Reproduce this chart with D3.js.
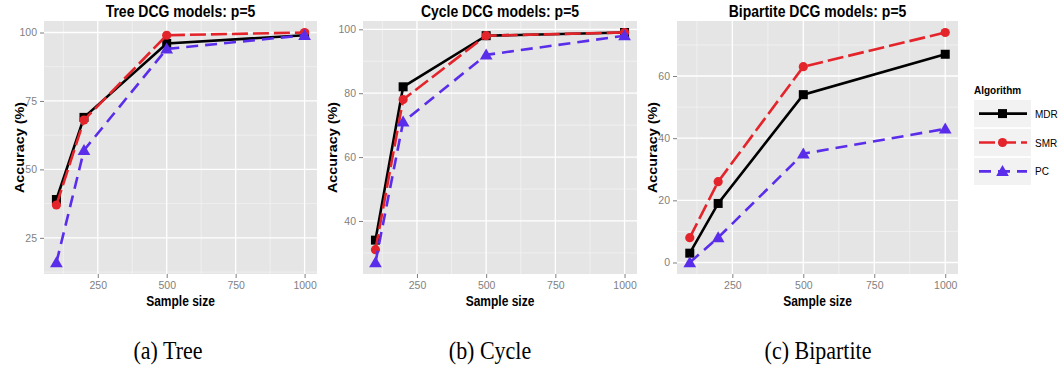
<!DOCTYPE html>
<html>
<head>
<meta charset="utf-8">
<script src="https://cdn.jsdelivr.net/npm/d3@7"></script>
<style>
    html, body { margin: 0; padding: 0; background: #fff; }
    svg { display: block; font-family: 'Liberation Sans', Arial, sans-serif; }
</style>
</head>
<body>
<div id="chart"></div>
<script>
// Data
const sampleSizes = [100, 200, 500, 1000];
const algorithms = ['MDR', 'SMR', 'PC'];

const treeMDR = [39, 69, 96, 99];
const treeSMR = [37, 68, 99, 100];
const treePC = [16, 57, 94, 99];

const cycleMDR = [34, 82, 98, 99];
const cycleSMR = [31, 78, 98, 99];
const cyclePC = [27, 71, 92, 98];

const bipartiteMDR = [3, 19, 54, 67];
const bipartiteSMR = [8, 26, 63, 74];
const bipartitePC = [0, 8, 35, 43];

const xTicks = [250, 500, 750, 1000];
const xMinorTicks = [125, 375, 625, 875];
const treeYTicks = [25, 50, 75, 100];
const cycleYTicks = [40, 60, 80, 100];
const bipartiteYTicks = [0, 20, 40, 60];

const titles = ['Tree DCG models: p=5', 'Cycle DCG models: p=5', 'Bipartite DCG models: p=5'];
const captions = ['(a) Tree', '(b) Cycle', '(c) Bipartite'];
const legendTitle = 'Algorithm';
const xTitle = 'Sample size';
const yTitle = 'Accuracy (%)';

// Style
const colors = { MDR: '#000000', SMR: '#E3242B', PC: '#5A2DEB' };
const dashes = { MDR: null, SMR: '16,5', PC: '12,7' };
const K = 1.15; // vertical text stretch seen in the reference

const panels = [
    { title: titles[0], caption: captions[0], left: 44, right: 317, yTicks: treeYTicks, series: [treeMDR, treeSMR, treePC], yTitleX: 24, captionX: 168 },
    { title: titles[1], caption: captions[1], left: 363, right: 637, yTicks: cycleYTicks, series: [cycleMDR, cycleSMR, cyclePC], yTitleX: 337, captionX: 490 },
    { title: titles[2], caption: captions[2], left: 677, right: 958, yTicks: bipartiteYTicks, series: [bipartiteMDR, bipartiteSMR, bipartitePC], yTitleX: 657, captionX: 818 }
];
const plotTop = 21, plotBottom = 274;

const svg = d3.select('#chart').append('svg')
    .attr('width', 1060)
    .attr('height', 372);

function label(g, x, y, txt, size, weight, anchor, rotate, fill, family) {
    return g.append('text')
        .attr('transform', `translate(${x},${y}) scale(1,${K})` + (rotate ? ' rotate(-90)' : ''))
        .attr('text-anchor', anchor)
        .style('font-size', size + 'px')
        .style('font-weight', weight)
        .style('font-family', family || null)
        .attr('fill', fill || '#000')
        .text(txt);
}

function marker(g, name, x, y) {
    if (name === 'MDR') {
        g.append('rect').attr('x', x - 4.5).attr('y', y - 4.5).attr('width', 9).attr('height', 9).attr('fill', colors.MDR);
    } else if (name === 'SMR') {
        g.append('circle').attr('cx', x).attr('cy', y).attr('r', 4.6).attr('fill', colors.SMR);
    } else {
        g.append('path').attr('d', d3.symbol(d3.symbolTriangle, 70)()).attr('transform', `translate(${x},${y + 1})`).attr('fill', colors.PC);
    }
}

panels.forEach(p => {
    const g = svg.append('g');
    const all = p.series.flat();
    const [lo, hi] = d3.extent(all);
    const pad = (hi - lo) * 0.05;

    const x = d3.scaleLinear().domain([55, 1045]).range([p.left, p.right]);
    const y = d3.scaleLinear().domain([lo - pad, hi + pad]).range([plotBottom, plotTop]);

    // panel background
    g.append('rect')
        .attr('x', p.left).attr('y', plotTop)
        .attr('width', p.right - p.left).attr('height', plotBottom - plotTop)
        .attr('fill', '#E5E5E5');

    // minor grid
    const step = p.yTicks[1] - p.yTicks[0];
    const yMinor = [p.yTicks[0] - step / 2, ...p.yTicks.map(t => t + step / 2)]
        .filter(t => t > y.domain()[0] && t < y.domain()[1]);
    g.append('g').selectAll('line').data(yMinor).join('line')
        .attr('x1', p.left).attr('x2', p.right)
        .attr('y1', d => y(d)).attr('y2', d => y(d))
        .attr('stroke', '#F2F2F2').attr('stroke-width', 0.8);
    g.append('g').selectAll('line').data(xMinorTicks).join('line')
        .attr('y1', plotTop).attr('y2', plotBottom)
        .attr('x1', d => x(d)).attr('x2', d => x(d))
        .attr('stroke', '#F2F2F2').attr('stroke-width', 0.8);

    // major grid
    g.append('g').selectAll('line').data(p.yTicks).join('line')
        .attr('x1', p.left).attr('x2', p.right)
        .attr('y1', d => y(d)).attr('y2', d => y(d))
        .attr('stroke', '#fff').attr('stroke-width', 1.3);
    g.append('g').selectAll('line').data(xTicks).join('line')
        .attr('y1', plotTop).attr('y2', plotBottom)
        .attr('x1', d => x(d)).attr('x2', d => x(d))
        .attr('stroke', '#fff').attr('stroke-width', 1.3);

    // axes
    const yAxis = g.append('g')
        .attr('transform', `translate(${p.left},0)`)
        .call(d3.axisLeft(y).tickValues(p.yTicks).tickFormat(d3.format('d')).tickSize(4).tickPadding(3));
    const xAxis = g.append('g')
        .attr('transform', `translate(0,${plotBottom})`)
        .call(d3.axisBottom(x).tickValues(xTicks).tickFormat(d3.format('d')).tickSize(4).tickPadding(4));
    [xAxis, yAxis].forEach(a => {
        a.select('.domain').remove();
        a.selectAll('line').attr('stroke', '#7F7F7F');
        a.selectAll('text')
            .attr('fill', '#7F7F7F')
            .style('font-size', '10.5px')
            .style('font-family', "'Liberation Sans', Arial, sans-serif");
    });

    // lines + points
    const line = d3.line().x((d, i) => x(sampleSizes[i])).y(d => y(d));
    p.series.forEach((vals, k) => {
        const name = algorithms[k];
        g.append('path')
            .attr('d', line(vals))
            .attr('fill', 'none')
            .attr('stroke', colors[name])
            .attr('stroke-width', 2.6)
            .attr('stroke-dasharray', dashes[name]);
        vals.forEach((v, i) => marker(g, name, x(sampleSizes[i]), y(v)));
    });

    // titles
    const cx = (p.left + p.right) / 2;
    label(g, cx, 17, p.title, 14, 'bold', 'middle');
    label(g, cx, 306, xTitle, 12, 'bold', 'middle');
    label(g, p.yTitleX, (plotTop + plotBottom) / 2, yTitle, 12.5, 'bold', 'middle', true);
    label(g, p.captionX, 359, p.caption, 22, 'normal', 'middle', false, '#000', "'Liberation Serif', 'Times New Roman', serif");
});

// legend
const lg = svg.append('g');
label(lg, 974, 94, legendTitle, 10, 'bold', 'start');
const keyY = d3.scaleBand().domain(algorithms).range([100, 185]).paddingInner(0.06);
algorithms.forEach(name => {
    const y0 = keyY(name), h = keyY.bandwidth(), cy = y0 + h / 2;
    lg.append('rect').attr('x', 974).attr('y', y0).attr('width', 57).attr('height', h).attr('fill', '#F2F2F2');
    lg.append('line')
        .attr('x1', 979).attr('x2', 1027).attr('y1', cy).attr('y2', cy)
        .attr('stroke', colors[name]).attr('stroke-width', 2.6)
        .attr('stroke-dasharray', dashes[name]);
    marker(lg, name, 1002.5, cy);
    label(lg, 1035, cy + 4, name, 10, 'normal', 'start');
});
</script>
</body>
</html>
